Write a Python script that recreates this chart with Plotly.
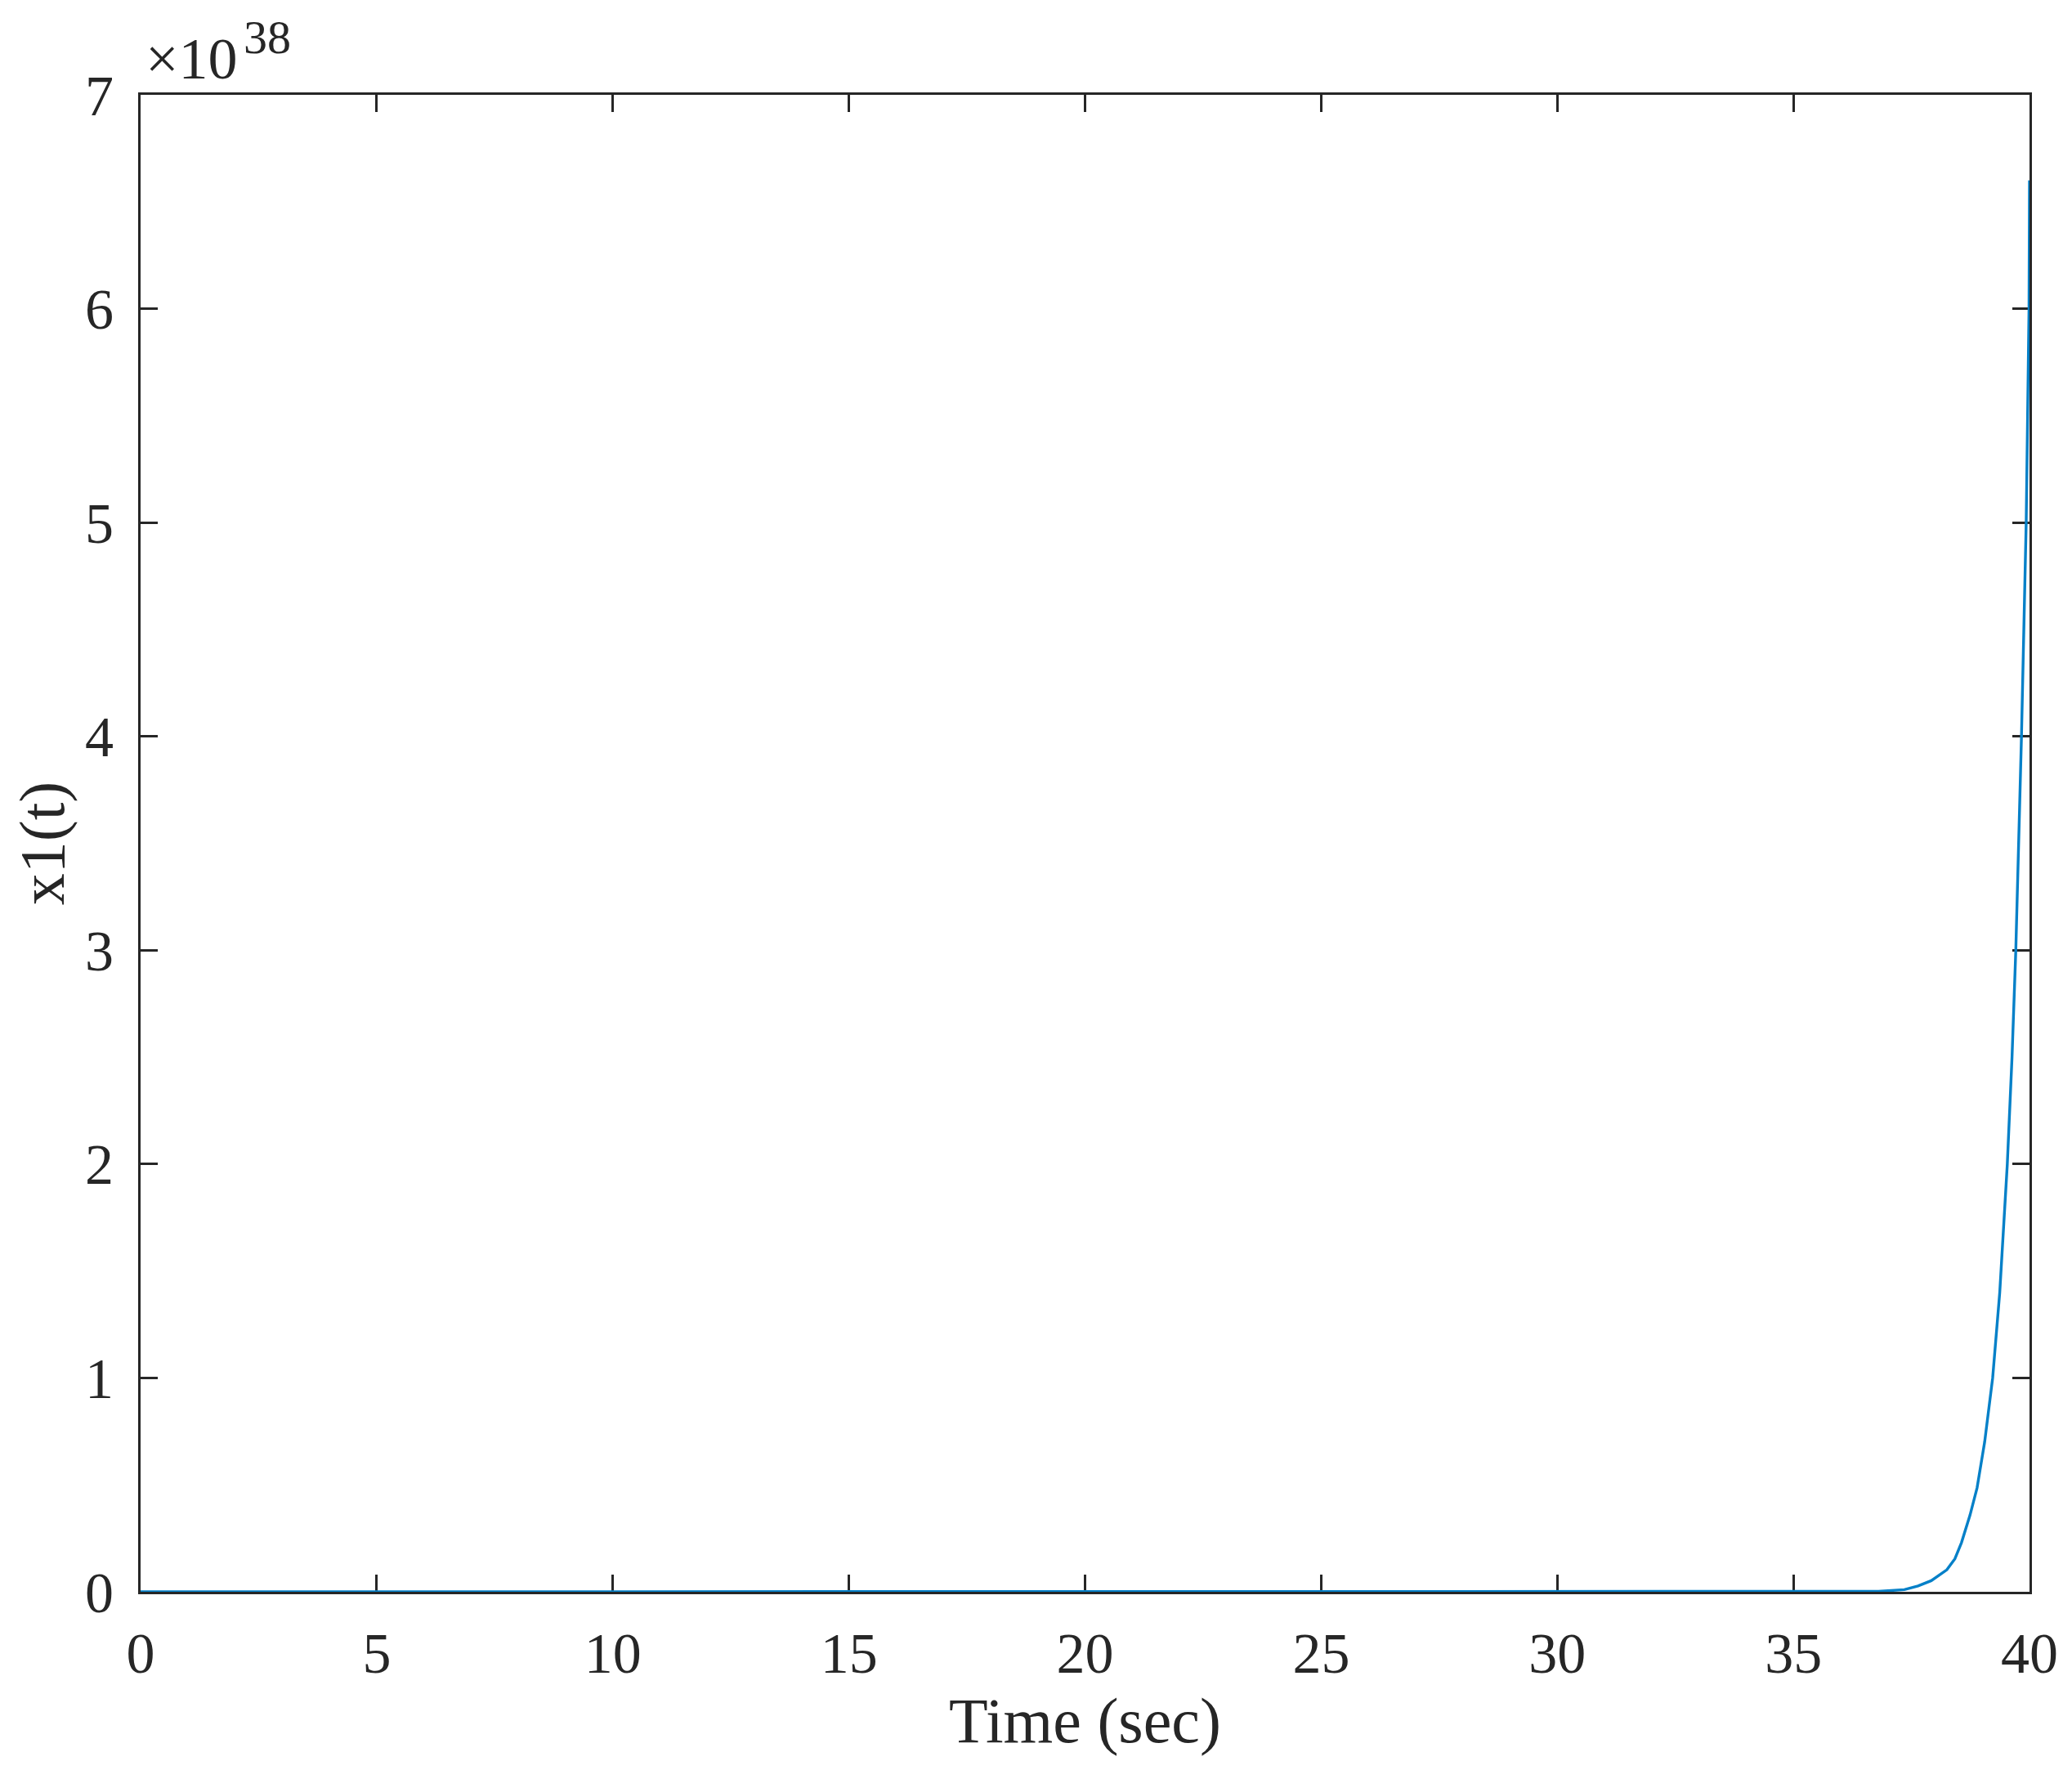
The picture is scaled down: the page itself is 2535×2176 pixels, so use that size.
import plotly.graph_objects as go

# Time (sec) and x1(t) in units of 1e38
time_s = [0.0, 10.0, 20.0, 30.0, 36.8, 37.35, 37.64, 37.92, 38.25, 38.42, 38.56, 38.74,
          38.89, 39.05, 39.22, 39.37, 39.53, 39.63, 39.71, 39.83, 39.93, 39.99, 40.0]
x1_e38 = [0.0, 0.0, 0.0, 0.0, 0.002, 0.01, 0.027, 0.052, 0.103, 0.154, 0.23, 0.358,
          0.486, 0.70, 1.0, 1.40, 2.0, 2.5, 3.0, 4.0, 5.0, 6.0, 6.6]

x_ticks = [0, 5, 10, 15, 20, 25, 30, 35, 40]
y_ticks = [0, 1, 2, 3, 4, 5, 6, 7]
exponent_base = "×10"
exponent_power = "38"

FONT = "Liberation Serif"
AX = "#262626"

fig = go.Figure()
fig.add_trace(go.Scatter(x=time_s, y=x1_e38, mode="lines",
                         line=dict(color="#0580C8", width=3.4),
                         showlegend=False, hoverinfo="skip"))

axis_common = dict(showline=True, linecolor=AX, linewidth=3, mirror="ticks",
                   ticks="inside", ticklen=21, tickwidth=2.5, tickcolor=AX,
                   showgrid=False, zeroline=False, layer="below traces",
                   automargin=False,
                   tickfont=dict(family=FONT, size=70, color=AX))

fig.update_xaxes(range=[0, 40], tickvals=x_ticks, ticktext=[str(v) for v in x_ticks],
                 title=dict(text="Time (sec)", font=dict(family=FONT, size=78, color=AX),
                            standoff=12),
                 ticklabelstandoff=12, **axis_common)
fig.update_yaxes(range=[0, 7], tickvals=y_ticks, ticktext=[str(v) for v in y_ticks],
                 title=dict(text="x1(t)", font=dict(family=FONT, size=78, color=AX),
                            standoff=20),
                 ticklabelstandoff=16, **axis_common)

fig.add_annotation(text=exponent_base, xref="paper", yref="paper", x=0, y=1,
                   xanchor="left", yanchor="bottom", showarrow=False, xshift=4, yshift=2,
                   font=dict(family=FONT, size=72, color=AX))
fig.add_annotation(text=exponent_power, xref="paper", yref="paper", x=0, y=1,
                   xanchor="left", yanchor="bottom", showarrow=False, xshift=124, yshift=36,
                   font=dict(family=FONT, size=58, color=AX))

# page body adds an 8px offset; margins compensate so the axes box matches
fig.update_layout(width=2535, height=2176, paper_bgcolor="white", plot_bgcolor="white",
                  margin=dict(l=164, r=60, t=108, b=237))

fig.write_html("out.html")
